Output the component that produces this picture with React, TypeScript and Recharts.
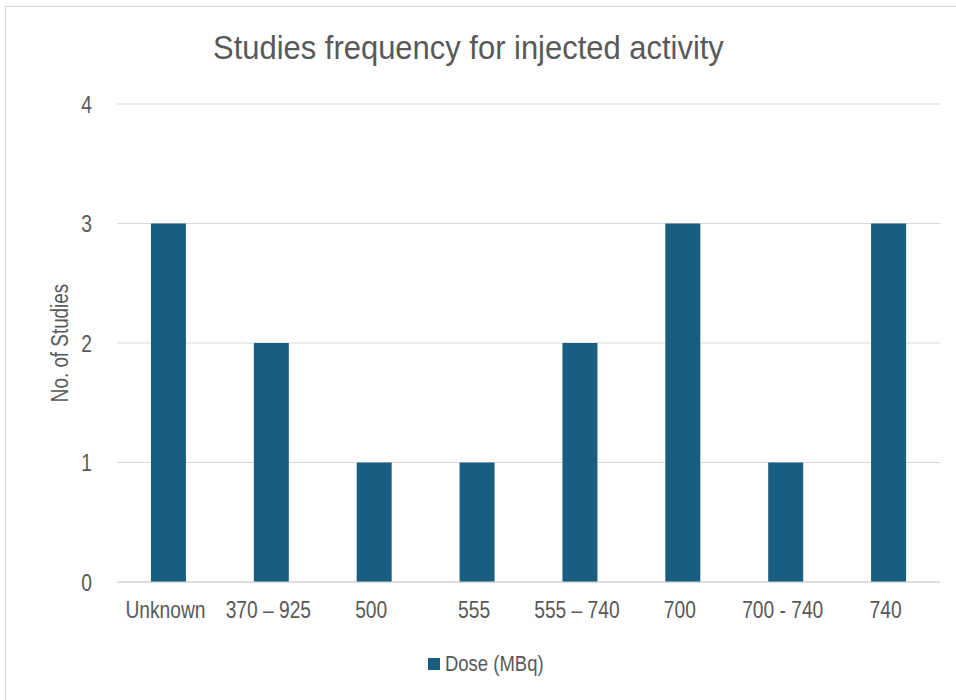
import React from 'react';
import { BarChart, Bar, XAxis, YAxis, CartesianGrid, Legend } from 'recharts';

// Values
const doses: string[] = ['Unknown', '370 \u2013 925', '500', '555', '555 \u2013 740', '700', '700 - 740', '740'];
const studies: number[] = [3, 2, 1, 1, 2, 3, 1, 3];
const yTicks: number[] = [0, 1, 2, 3, 4];
const seriesName = 'Dose (MBq)';

const chartData = doses.map((dose, i) => ({ dose, count: studies[i] }));

const FONT = "'Liberation Sans', Arial, sans-serif";
const TEXT = '#595959';
const BAR = '#175e80';
const SQUEEZE = 0.8; // reference text is a narrow face

const XTick = (props: any) => {
  const { x, y, payload } = props;
  return (
    <text transform={`translate(${x - 3}, ${y}) scale(${SQUEEZE}, 1)`} textAnchor="middle" dy="0.71em"
      fill={TEXT} fontSize={24} fontFamily={FONT}>
      {payload.value}
    </text>
  );
};

const YTick = (props: any) => {
  const { x, y, payload } = props;
  return (
    <text transform={`translate(${x}, ${y}) scale(${SQUEEZE}, 1)`} textAnchor="end" dy="0.355em"
      fill={TEXT} fontSize={24} fontFamily={FONT}>
      {payload.value}
    </text>
  );
};

const YLabel = (props: any) => {
  const vb = props.viewBox || {};
  const cy = (vb.y || 0) + (vb.height || 0) / 2;
  return (
    <text transform={`translate(56, ${cy}) rotate(-90) scale(0.82, 1)`} textAnchor="middle" dominantBaseline="middle"
      fill={TEXT} fontSize={23} fontFamily={FONT}>
      No. of Studies
    </text>
  );
};

const LegendContent = () => (
  <div style={{ position: 'relative', width: 960, height: 26, fontFamily: FONT, color: TEXT, whiteSpace: 'nowrap' }}>
    <span style={{ position: 'absolute', left: 422, top: 7, width: 12, height: 12, background: BAR }} />
    <span style={{ position: 'absolute', left: 439, top: 0, fontSize: 22, transform: 'scaleX(0.84)', transformOrigin: 'left center' }}>
      {seriesName}
    </span>
  </div>
);

const App: React.FC = () => {
  return (
    <div style={{ position: 'fixed', left: 0, top: 0, width: 956, height: 700, overflow: 'hidden', background: '#fff' }}>
      <div style={{ position: 'absolute', left: 5, top: 6, width: 980, height: 720, border: '1px solid #d9d9d9', background: '#fff' }}>
        <div style={{ position: 'absolute', left: 0, top: 21, width: 925, textAlign: 'center', fontFamily: FONT, fontSize: 34, color: TEXT, whiteSpace: 'nowrap', transform: 'scaleX(0.91)', transformOrigin: '462px 0' }}>
          Studies frequency for injected activity
        </div>
        <BarChart width={960} height={693} data={chartData} margin={{ top: 97, right: 26, bottom: 78, left: 0 }}
          barCategoryGap="33%">
          <CartesianGrid horizontal vertical={false} stroke="#d9d9d9" />
          <XAxis dataKey="dose" height={40} tickLine={false} tickSize={0} tickMargin={19} interval={0}
            axisLine={{ stroke: '#d0d0d0' }} tick={<XTick />} />
          <YAxis width={111} domain={[0, 4]} ticks={yTicks} axisLine={false} tickLine={false} tickSize={0}
            tickMargin={25} tick={<YTick />} label={<YLabel />} />
          <Legend verticalAlign="middle" align="center" content={<LegendContent />}
            wrapperStyle={{ top: 644, left: 0, width: 960 }} />
          <Bar dataKey="count" name={seriesName} fill={BAR} isAnimationActive={false} />
        </BarChart>
      </div>
    </div>
  );
};

export default App;
